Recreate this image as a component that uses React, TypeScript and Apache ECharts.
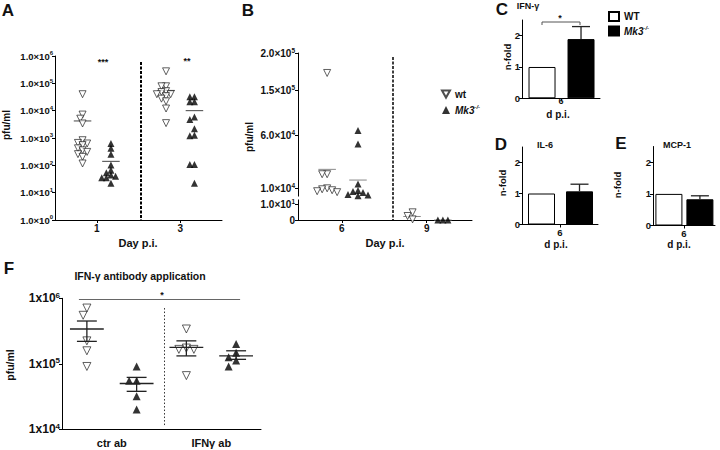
import { useEffect, useRef } from 'react';
import * as echarts from 'echarts';

const FONT = '"Liberation Sans", Arial, Helvetica, sans-serif';
const INK = '#111111';

// ---------- Panel A (pfu/ml, log scale) ----------
const A_DAYS = [1, 3];
const A_WT_DAY1 = [4.0e4, 7.2e3, 5.1e3, 3.4e3, 830, 660, 630, 550, 420, 355, 310, 257, 204, 117];
const A_KO_DAY1 = [630, 420, 257, 102, 66, 54, 44, 40, 35, 35, 22];
const A_WT_DAY3 = [2.75e5, 7.8e4, 7.8e4, 5.2e4, 4.8e4, 4.0e4, 4.0e4, 3.4e4, 2.75e4, 2.2e4, 1.2e4, 3.5e3];
const A_KO_DAY3 = [3.2e4, 3.2e4, 2.1e4, 2.1e4, 5.9e3, 4.8e3, 2.2e3, 1.25e3, 1.2e3, 107, 107, 22];
const A_WT_MEAN = [4.2e3, 5.5e4];
const A_KO_MEAN = [1.4e2, 1.0e4];
const A_Y_TICKS = [1, 1e1, 1e2, 1e3, 1e4, 1e5, 1e6];
const A_SIG = ['***', '**'];

// ---------- Panel B (pfu/ml, segmented axis) ----------
const B_DAYS = [6, 9];
const B_WT_DAY6 = [1.73e5, 2.3e4, 2.3e4, 9.8e3, 9.2e3, 8.6e3, 8.0e3, 7.4e3];
const B_KO_DAY6 = [6.9e4, 5.15e4, 1.38e4, 8.5e3, 7.8e3, 7.2e3, 6.0e3, 5.6e3, 5.2e3];
const B_WT_DAY9 = [4.8, 0.4, 2.5];
const B_KO_DAY9 = [0, 0, 0];
const B_WT_MEAN = [2.76e4, 2.2];
const B_KO_MEAN = [1.75e4, 0];
const B_Y_TICKS = [0, 1e1, 1e4, 6e4, 1.5e5, 2e5];

// ---------- Panels C–E (n-fold) ----------
const CYTO_NAMES = ['IFN-γ', 'IL-6', 'MCP-1'];
const CYTO_WT = [1, 1, 1];
const CYTO_KO = [1.89, 1.07, 0.83];
const CYTO_KO_UPPER = [2.29, 1.3, 0.94];
const CYTO_Y_TICKS = [0, 1, 2];
const CYTO_DAY = '6';

// ---------- Panel F (IFN-γ antibody application) ----------
const F_GROUPS = ['ctr ab', 'IFNγ ab'];
const F_WT_CTR = [7.1e5, 5.5e5, 2.24e5, 1.58e5, 9.1e4];
const F_WT_IFN = [3.4e5, 1.74e5, 1.66e5, 1.66e5, 6.6e4];
const F_KO_CTR = [9.1e4, 5.5e4, 5.5e4, 3.2e4, 2.0e4];
const F_KO_IFN = [2.0e5, 1.48e5, 1.26e5, 1.12e5, 9.1e4];
const F_WT_MEAN = [3.4e5, 1.78e5];
const F_WT_LO = [2.2e5, 1.32e5];
const F_WT_HI = [4.5e5, 2.24e5];
const F_KO_MEAN = [5.0e4, 1.32e5];
const F_KO_LO = [3.8e4, 1.17e5];
const F_KO_HI = [6.2e4, 1.58e5];
const F_Y_TICKS = [1e4, 1e5, 1e6];

// ---------- layout helpers ----------
const B_SEG_POS = [0, 16, 32, 85, 130, 167]; // drawn height of each break point on B's segmented axis

function toB(v: number): number {
  for (let i = 0; i < B_Y_TICKS.length - 1; i++) {
    const a = B_Y_TICKS[i], b = B_Y_TICKS[i + 1];
    if (v <= b || i === B_Y_TICKS.length - 2) {
      const t = (v - a) / (b - a);
      return B_SEG_POS[i] + t * (B_SEG_POS[i + 1] - B_SEG_POS[i]);
    }
  }
  return 0;
}

function swarm(ys: number[], d: number): number[] {
  const placed: [number, number][] = [];
  return ys.map((y) => {
    for (let k = 0; k < 14; k++) {
      const c = k === 0 ? 0 : (k % 2 ? -Math.ceil(k / 2) : Math.ceil(k / 2));
      const x = c * d * 0.5;
      if (placed.every(([px, py]) => Math.hypot(px - x, py - y) >= d)) {
        placed.push([x, y]);
        return x;
      }
    }
    placed.push([0, y]);
    return 0;
  });
}

function scatter(groups: { c: number; vals: number[] }[], yPx: (v: number) => number, pxPerUnit: number, dist: number, yMap: (v: number) => number) {
  const out: number[][] = [];
  groups.forEach((g) => {
    const offs = swarm(g.vals.map(yPx), dist);
    g.vals.forEach((v, i) => out.push([g.c + offs[i] / pxPerUnit, yMap(v)]));
  });
  return out;
}

const logPx = (perDecade: number) => (v: number) => Math.log10(Math.max(v, 1e-9)) * perDecade;
const id = (v: number) => v;

const supRich = (size: number, sup: number) => ({
  a: { fontSize: size, fontWeight: 'bold', fontFamily: FONT, color: INK },
  e: { fontSize: sup, fontWeight: 'bold', fontFamily: FONT, color: INK, padding: [0, 0, size * 0.55, 0] },
});

function meanLine(ax: number, data: number[][], halfW: number, color: string, width: number) {
  return {
    type: 'custom', xAxisIndex: ax, yAxisIndex: ax, silent: true, z: 1, data,
    renderItem: (_p: any, api: any) => {
      const x = api.value(0), y = api.value(1);
      const p1 = api.coord([x - halfW, y]);
      const p2 = api.coord([x + halfW, y]);
      return { type: 'line', shape: { x1: p1[0], y1: p1[1], x2: p2[0], y2: p2[1] }, style: { stroke: color, lineWidth: width } };
    },
  };
}

function semBars(ax: number, data: number[][]) {
  return {
    type: 'custom', xAxisIndex: ax, yAxisIndex: ax, silent: true, z: 5, data,
    renderItem: (_p: any, api: any) => {
      const x = api.value(0), m = api.value(1), lo = api.value(2), hi = api.value(3);
      const seg = (x1: number, y1: number, x2: number, y2: number) => {
        const a = api.coord([x1, y1]), b = api.coord([x2, y2]);
        return { type: 'line', shape: { x1: a[0], y1: a[1], x2: b[0], y2: b[1] }, style: { stroke: '#222', lineWidth: 1.3 } };
      };
      return {
        type: 'group',
        children: [seg(x - 0.34, m, x + 0.34, m), seg(x - 0.2, lo, x + 0.2, lo), seg(x - 0.2, hi, x + 0.2, hi), seg(x, lo, x, hi)],
      };
    },
  };
}

function errUp(ax: number, data: number[][]) {
  return {
    type: 'custom', xAxisIndex: ax, yAxisIndex: ax, silent: true, z: 5, data,
    renderItem: (_p: any, api: any) => {
      const a = api.coord([api.value(0), api.value(1)]);
      const b = api.coord([api.value(0), api.value(2)]);
      return {
        type: 'group',
        children: [
          { type: 'line', shape: { x1: a[0], y1: a[1], x2: b[0], y2: b[1] }, style: { stroke: '#222', lineWidth: 1.3 } },
          { type: 'line', shape: { x1: b[0] - 9, y1: b[1], x2: b[0] + 9, y2: b[1] }, style: { stroke: '#222', lineWidth: 1.3 } },
        ],
      };
    },
  };
}

const axisLineStyle = { show: true, onZero: false, lineStyle: { color: '#000', width: 1 } };

function sepLine(x: number, y0: number, y1: number, width: number, type: any, color = '#000') {
  return {
    silent: true, symbol: ['none', 'none'], label: { show: false },
    lineStyle: { color, width, type },
    emphasis: { disabled: true },
    data: [[{ coord: [x, y0] }, { coord: [x, y1] }]],
  };
}

function buildOption() {
  const grids = [
    { left: 55, top: 56, width: 167, height: 164 },   // A
    { left: 298, top: 53, width: 174, height: 167 },  // B
    { left: 522, top: 20, width: 78, height: 78.3 },  // C
    { left: 522, top: 147, width: 76, height: 77.5 }, // D
    { left: 653, top: 146.5, width: 62, height: 79 }, // E
    { left: 62, top: 298.3, width: 199, height: 131 },// F
  ];

  const labelBase = { fontFamily: FONT, fontWeight: 'bold', color: INK };

  const xAxes: any[] = [
    { type: 'value', gridIndex: 0, min: 0, max: 4, axisLine: axisLineStyle, splitLine: { show: false },
      axisTick: { show: true, length: 3, customValues: A_DAYS, lineStyle: { color: '#000' } },
      axisLabel: { ...labelBase, fontSize: 10, margin: 3, customValues: A_DAYS, formatter: (v: number) => String(v) } },
    { type: 'value', gridIndex: 1, min: 4.45, max: 10.6, axisLine: axisLineStyle, splitLine: { show: false },
      axisTick: { show: true, length: 3, customValues: B_DAYS, lineStyle: { color: '#000' } },
      axisLabel: { ...labelBase, fontSize: 10, margin: 3, customValues: B_DAYS, formatter: (v: number) => String(v) } },
  ];
  for (let k = 0; k < 3; k++) {
    const tight = k === 0;
    xAxes.push({ type: 'value', gridIndex: 2 + k, min: 0, max: 3, axisLine: axisLineStyle, splitLine: { show: false },
      axisTick: { show: true, length: 3, customValues: [1.5], lineStyle: { color: '#000' } },
      axisLabel: { ...labelBase, fontSize: tight ? 9 : 9.5, lineHeight: tight ? 8 : 11, margin: tight ? -1 : 2, customValues: [1.5], formatter: () => CYTO_DAY } });
  }
  xAxes.push({ type: 'value', gridIndex: 5, min: 0, max: 4, axisLine: axisLineStyle, splitLine: { show: false },
    axisTick: { show: false },
    axisLabel: { ...labelBase, fontSize: 11, margin: 8, customValues: [1, 3], formatter: (v: number) => F_GROUPS[v === 1 ? 0 : 1] } });

  const yTick = { show: true, length: 3, lineStyle: { color: '#000' } };
  const yAxes: any[] = [
    { type: 'log', logBase: 10, gridIndex: 0, min: 1, max: 1e6, axisLine: axisLineStyle, splitLine: { show: false }, minorTick: { show: false },
      axisTick: { ...yTick, customValues: A_Y_TICKS },
      axisLabel: { margin: 2, customValues: A_Y_TICKS, rich: supRich(9.5, 6),
        formatter: (v: number) => `{a|1.0×10}{e|${Math.round(Math.log10(v))}}` } },
    { type: 'value', gridIndex: 1, min: 0, max: B_SEG_POS[B_SEG_POS.length - 1], axisLine: axisLineStyle, splitLine: { show: false },
      axisTick: { ...yTick, customValues: B_SEG_POS },
      axisLabel: { margin: 3, customValues: B_SEG_POS, rich: supRich(10, 6.5),
        formatter: (p: number) => {
          const i = B_SEG_POS.findIndex((q) => Math.abs(q - p) < 0.01);
          const v = B_Y_TICKS[i];
          if (!v) return '{a|0}';
          const e = Math.floor(Math.log10(v) + 1e-9);
          const m = v / Math.pow(10, e);
          return `{a|${m.toFixed(1)}×10}{e|${e}}`;
        } } },
  ];
  for (let k = 0; k < 3; k++) {
    yAxes.push({ type: 'value', gridIndex: 2 + k, min: 0, max: 2.5, axisLine: axisLineStyle, splitLine: { show: false },
      axisTick: { ...yTick, customValues: CYTO_Y_TICKS },
      axisLabel: { ...labelBase, fontSize: 9.5, margin: 2, customValues: CYTO_Y_TICKS } });
  }
  yAxes.push({ type: 'log', logBase: 10, gridIndex: 5, min: 1e4, max: 1e6, axisLine: axisLineStyle, splitLine: { show: false }, minorTick: { show: false },
    axisTick: { ...yTick, customValues: F_Y_TICKS },
    axisLabel: { margin: 2, customValues: F_Y_TICKS, rich: supRich(12, 8),
      formatter: (v: number) => `{a|1x10}{e|${Math.round(Math.log10(v))}}` } });

  const openTri = { color: '#ffffff', borderColor: '#222', borderWidth: 0.9 };
  const fillTri = { color: '#000000' };

  // A
  const aWt = scatter([{ c: A_DAYS[0] - 0.34, vals: A_WT_DAY1 }, { c: A_DAYS[1] - 0.34, vals: A_WT_DAY3 }], logPx(27.3), 41.75, 4.6, id);
  const aKo = scatter([{ c: A_DAYS[0] + 0.34, vals: A_KO_DAY1 }, { c: A_DAYS[1] + 0.34, vals: A_KO_DAY3 }], logPx(27.3), 41.75, 4.6, id);
  // B
  const bWt = scatter([{ c: B_DAYS[0] - 0.52, vals: B_WT_DAY6 }, { c: B_DAYS[1] - 0.5, vals: B_WT_DAY9 }], toB, 28.3, 5, toB);
  const bKo = scatter([{ c: B_DAYS[0] + 0.57, vals: B_KO_DAY6 }, { c: B_DAYS[1] + 0.57, vals: B_KO_DAY9 }], toB, 28.3, 5, toB);
  // F
  const fWt = scatter([{ c: 0.5, vals: F_WT_CTR }, { c: 2.5, vals: F_WT_IFN }], logPx(65.5), 49.75, 7.5, id);
  const fKo = scatter([{ c: 1.5, vals: F_KO_CTR }, { c: 3.5, vals: F_KO_IFN }], logPx(65.5), 49.75, 7.5, id);

  const series: any[] = [
    { type: 'scatter', name: 'wt', xAxisIndex: 0, yAxisIndex: 0, data: aWt, symbol: 'triangle', symbolRotate: 180, symbolSize: 7, itemStyle: openTri, z: 3,
      markLine: sepLine(2.06, 6e5, 1, 2, [3, 1.5]) },
    { type: 'scatter', name: 'Mk3', xAxisIndex: 0, yAxisIndex: 0, data: aKo, symbol: 'triangle', symbolSize: 7, itemStyle: fillTri, z: 3 },
    meanLine(0, A_DAYS.map((d, i) => [d - 0.34, A_WT_MEAN[i]]), 0.21, '#444', 1),
    meanLine(0, A_DAYS.map((d, i) => [d + 0.34, A_KO_MEAN[i]]), 0.21, '#444', 1),

    { type: 'scatter', name: 'wt', xAxisIndex: 1, yAxisIndex: 1, data: bWt, symbol: 'triangle', symbolRotate: 180, symbolSize: 7, itemStyle: openTri, z: 3,
      markLine: sepLine(7.8, 163, 0, 1.5, [3, 1.5]) },
    { type: 'scatter', name: 'Mk3', xAxisIndex: 1, yAxisIndex: 1, data: bKo, symbol: 'triangle', symbolSize: 7, itemStyle: fillTri, z: 3 },
    meanLine(1, B_DAYS.map((d, i) => [d - 0.52, toB(B_WT_MEAN[i])]), 0.31, '#888', 1),
    meanLine(1, B_DAYS.map((d, i) => [d + 0.57, toB(B_KO_MEAN[i])]), 0.31, '#888', 1),
  ];

  for (let k = 0; k < 3; k++) {
    const ax = 2 + k;
    series.push(
      { type: 'bar', name: 'WT', xAxisIndex: ax, yAxisIndex: ax, data: [[0.77, CYTO_WT[k]]], barWidth: 27, barGap: '-100%',
        itemStyle: { color: '#ffffff', borderColor: '#000', borderWidth: 1 }, silent: true },
      { type: 'bar', name: 'KO', xAxisIndex: ax, yAxisIndex: ax, data: [[2.27, CYTO_KO[k]]], barWidth: 27, barGap: '-100%',
        itemStyle: { color: '#000000', borderColor: '#000', borderWidth: 1 }, silent: true },
      errUp(ax, [[2.27, CYTO_KO[k], CYTO_KO_UPPER[k]]]),
    );
  }

  series.push(
    { type: 'scatter', name: 'wt', xAxisIndex: 5, yAxisIndex: 5, data: fWt, symbol: 'triangle', symbolRotate: 180, symbolSize: 8, itemStyle: openTri, z: 3,
      markLine: sepLine(2.06, 1.16e4, 7.4e5, 1, [1.5, 2], '#333') },
    { type: 'scatter', name: 'Mk3', xAxisIndex: 5, yAxisIndex: 5, data: fKo, symbol: 'triangle', symbolSize: 8, itemStyle: fillTri, z: 3,
      markLine: { silent: true, symbol: ['none', 'none'], label: { show: false }, lineStyle: { color: '#666', width: 1, type: 'solid' },
        data: [[{ coord: [0.34, 9.7e5] }, { coord: [3.58, 9.7e5] }]] } },
    semBars(5, [0, 1].map((i) => [0.5 + 2 * i, F_WT_MEAN[i], F_WT_LO[i], F_WT_HI[i]])),
    semBars(5, [0, 1].map((i) => [1.5 + 2 * i, F_KO_MEAN[i], F_KO_LO[i], F_KO_HI[i]])),
  );

  const T = (text: string, x: number, y: number, size: number, rot = 0, lh?: number) => ({
    type: 'text', x, y, rotation: rot, silent: true,
    style: { text, font: `bold ${size}px ${FONT}`, fill: INK, textAlign: 'center', textVerticalAlign: 'middle', ...(lh ? { lineHeight: lh } : {}) },
  });
  const R = Math.PI / 2;

  const graphic: any[] = [
    T('A', 8, 10, 17), T('B', 248, 10, 17), T('C', 502, 9, 17), T('D', 501, 144, 17), T('E', 621, 143, 17), T('F', 9, 268, 17),
    T('pfu/ml', 6, 125, 10, R), T('pfu/ml', 249, 137, 10, R), T('pfu/ml', 10, 365, 10.5, R),
    T('Day p.i.', 138, 243, 11), T('Day p.i.', 385, 243, 11),
    T(A_SIG[0], 103, 62, 9), T(A_SIG[1], 187, 61, 9),
    T(CYTO_NAMES[0], 528, 6, 9), T(CYTO_NAMES[1], 545, 145, 9), T(CYTO_NAMES[2], 677, 145, 9),
    T('n-fold', 507, 57, 9.5, R), T('n-fold', 502, 183, 9.5, R), T('n-fold', 617, 185, 9.5, R),
    T('d p.i.', 558, 114, 10, 0, 9), T('d p.i.', 556, 244, 10), T('d p.i.', 679, 244, 10),
    T('*', 560, 18, 9), T('*', 162, 295, 9),
    T('IFN-γ antibody application', 140, 276, 10.5),
    { type: 'polyline', silent: true, shape: { points: [[542, 25], [542, 22], [580, 22], [580, 25]] }, style: { stroke: '#555', lineWidth: 1, fill: 'none' } },
    { type: 'rect', silent: true, z: 100, shape: { x: 295, y: 196.5, width: 6, height: 3 }, style: { fill: '#ffffff' } },
  ];

  const legRich = {
    n: { fontSize: 10, fontWeight: 'bold', fontFamily: FONT, color: INK },
    i: { fontSize: 10, fontWeight: 'bold', fontStyle: 'italic', fontFamily: FONT, color: INK },
    s: { fontSize: 6, fontWeight: 'bold', fontStyle: 'italic', fontFamily: FONT, color: INK, padding: [0, 0, 6, 0] },
  };
  const legFmt = (name: string) => (name === 'Mk3' || name === 'KO' ? '{i|Mk3}{s|-/-}' : `{n|${name}}`);

  return {
    animation: false,
    backgroundColor: '#ffffff',
    textStyle: { fontFamily: FONT },
    grid: grids,
    xAxis: xAxes,
    yAxis: yAxes,
    series,
    graphic,
    legend: [
      { left: 436, top: 84, orient: 'vertical', itemGap: 5, itemWidth: 8, itemHeight: 8, selectedMode: false,
        data: [{ name: 'wt', icon: 'path://M0,0L10,0L5,9Z' }, { name: 'Mk3', icon: 'triangle' }],
        formatter: legFmt, textStyle: { rich: legRich, fontSize: 10 } },
      { left: 603, top: 6, orient: 'vertical', itemGap: 3, itemWidth: 10, itemHeight: 9, selectedMode: false,
        data: [{ name: 'WT', icon: 'rect' }, { name: 'KO', icon: 'rect' }],
        formatter: legFmt, textStyle: { rich: legRich, fontSize: 10 } },
    ],
  };
}

export default function App() {
  const ref = useRef<HTMLDivElement>(null);
  useEffect(() => {
    if (!ref.current) return;
    const chart = echarts.init(ref.current, undefined, { renderer: 'svg' });
    chart.setOption(buildOption() as any);
    return () => chart.dispose();
  }, []);
  return <div ref={ref} style={{ position: 'fixed', left: 0, top: 0, width: 720, height: 450, background: '#fff' }} />;
}
